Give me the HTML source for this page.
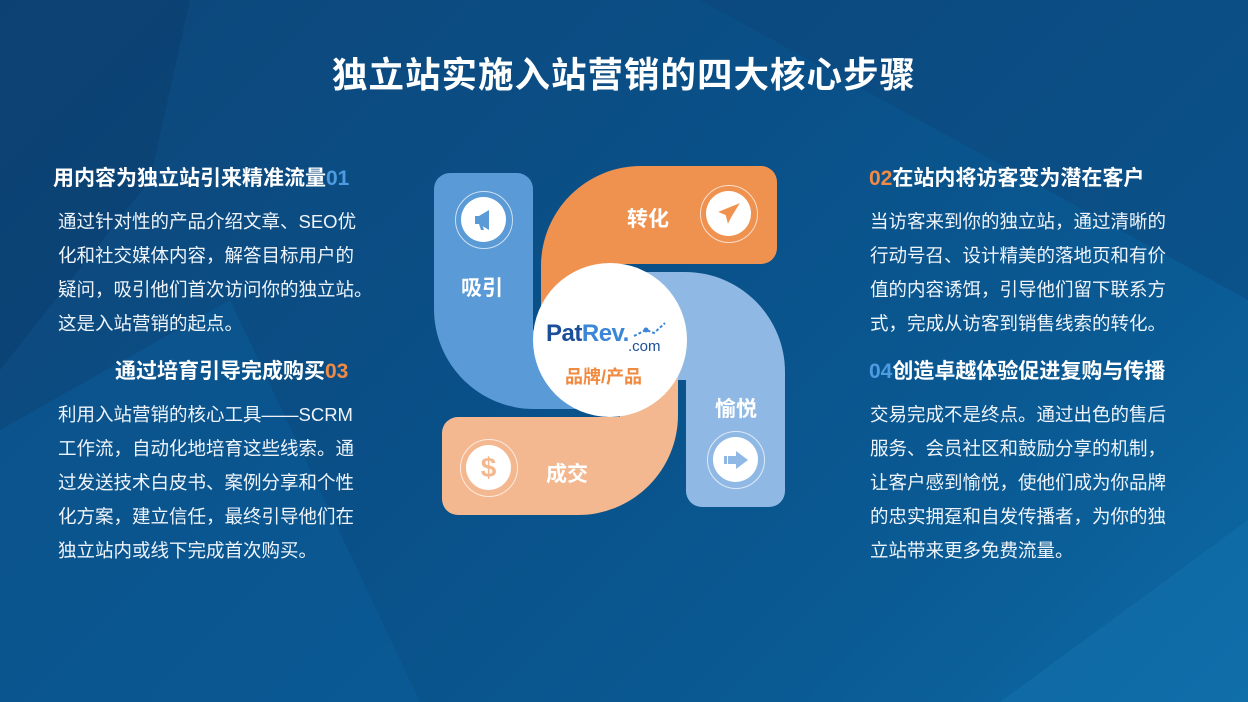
<!DOCTYPE html>
<html><head><meta charset="utf-8"><style>
*{margin:0;padding:0;box-sizing:border-box}
body{width:1248px;height:702px;overflow:hidden;position:relative;font-family:"Liberation Sans","Noto Sans CJK SC",sans-serif;color:#fff;background:linear-gradient(135deg,#0d4679 0%,#0a5088 45%,#0a5a94 75%,#0e6aa4 100%)}
.abs{position:absolute}
h1{position:absolute;left:0;width:1248px;top:47px;text-align:center;font-size:35.5px;font-weight:bold;letter-spacing:1px}
.hd{position:absolute;font-size:21px;font-weight:bold;white-space:nowrap}
.num{color:#4d9be0}
.numo{color:#f08a46}
.bd{position:absolute;font-size:18.5px;line-height:34px;white-space:nowrap;color:#eef4fa}
.lbl{position:absolute;font-size:21px;font-weight:bold;color:#fff}
.ic{position:absolute;width:58px;height:58px;border-radius:50%;border:1.5px solid rgba(255,255,255,.7)}
.ic div{position:absolute;left:5px;top:5px;width:45px;height:45px;border-radius:50%;background:#fff;display:flex;align-items:center;justify-content:center}
</style></head><body>
<svg class="abs" style="left:0;top:0" width="1248" height="702">
<polygon points="0,0 190,0 150,180 0,370" fill="#0b3f70" opacity=".6"/>
<polygon points="0,430 230,300 420,702 0,702" fill="#0b64a2" opacity=".35"/>
<polygon points="1000,702 1248,520 1248,702" fill="#1272ad" opacity=".5"/>
<polygon points="700,0 1248,0 1248,300" fill="#0c4477" opacity=".4"/>
</svg>
<h1>独立站实施入站营销的四大核心步骤</h1>

<div class="hd" style="left:53px;top:162px">用内容为独立站引来精准流量<span class="num">01</span></div>
<div class="bd" style="left:58px;top:205px">通过针对性的产品介绍文章、SEO优<br>化和社交媒体内容，解答目标用户的<br>疑问，吸引他们首次访问你的独立站。<br>这是入站营销的起点。</div>
<div class="hd" style="left:115px;top:355px">通过培育引导完成购买<span class="numo">03</span></div>
<div class="bd" style="left:58px;top:398px">利用入站营销的核心工具——SCRM<br>工作流，自动化地培育这些线索。通<br>过发送技术白皮书、案例分享和个性<br>化方案，建立信任，最终引导他们在<br>独立站内或线下完成首次购买。</div>

<div class="hd" style="left:869px;top:162px"><span class="numo">02</span>在站内将访客变为潜在客户</div>
<div class="bd" style="left:870px;top:205px">当访客来到你的独立站，通过清晰的<br>行动号召、设计精美的落地页和有价<br>值的内容诱饵，引导他们留下联系方<br>式，完成从访客到销售线索的转化。</div>
<div class="hd" style="left:869px;top:355px"><span class="num">04</span>创造卓越体验促进复购与传播</div>
<div class="bd" style="left:870px;top:398px">交易完成不是终点。通过出色的售后<br>服务、会员社区和鼓励分享的机制，<br>让客户感到愉悦，使他们成为你品牌<br>的忠实拥趸和自发传播者，为你的独<br>立站带来更多免费流量。</div>

<svg class="abs" style="left:0;top:0" width="1248" height="702">
<path d="M434,189 a16,16 0 0 1 16,-16 h67 a16,16 0 0 1 16,16 V330 H600 V409 H534 A100,100 0 0 1 434,309 Z" fill="#5a9ad6"/>
<path d="M541,330 V266 A100,100 0 0 1 641,166 H761 a16,16 0 0 1 16,16 V248 a16,16 0 0 1 -16,16 H600 V330 Z" fill="#ef9250"/>
<path d="M640,272 H685 A100,100 0 0 1 785,372 V491 a16,16 0 0 1 -16,16 H702 a16,16 0 0 1 -16,-16 V380 H640 Z" fill="#8fb9e4"/>
<path d="M678,360 V415 A100,100 0 0 1 578,515 H458 a16,16 0 0 1 -16,-16 V433 a16,16 0 0 1 16,-16 H620 V360 Z" fill="#f3b890"/>
<circle cx="610" cy="340" r="77" fill="#fff"/>
</svg>
<div class="abs" style="left:546px;top:320px;font-size:24px;font-weight:bold;color:#1c4f99;letter-spacing:-.5px">Pat<span style="color:#3b86d6">Rev.</span></div>
<div class="abs" style="left:628px;top:338px;font-size:15px;color:#1c4f99">.com</div>
<svg class="abs" style="left:632px;top:320px" width="36" height="20"><polyline points="2,16 14,10 22,13 33,3" stroke="#3b86d6" stroke-width="2" fill="none" stroke-dasharray="3,2"/><circle cx="14" cy="10" r="2.5" fill="#3b86d6"/></svg>
<div class="abs" style="left:565px;top:363px;font-size:18px;font-weight:bold;color:#ef8a40">品牌/产品</div>

<div class="lbl" style="left:461px;top:272px">吸引</div>
<div class="lbl" style="left:627px;top:203px">转化</div>
<div class="lbl" style="left:715px;top:393px">愉悦</div>
<div class="lbl" style="left:546px;top:458px">成交</div>

<div class="ic" style="left:455px;top:191px"><div><svg width="26" height="26" viewBox="0 0 26 26"><path d="M4 9h4l10-6v20L8 17H4z" fill="#5a9ad6"/><path d="M8 17l2 6h3l-2-6z" fill="#5a9ad6"/></svg></div></div>
<div class="ic" style="left:700px;top:185px"><div><svg width="26" height="26" viewBox="0 0 24 24"><path d="M22 2 2 10l7 3 2 8 3-6 8-13z" fill="#ef9250"/></svg></div></div>
<div class="ic" style="left:707px;top:431px"><div><svg width="28" height="22" viewBox="0 0 28 22"><rect x="2" y="7" width="3" height="8" fill="#8fb9e4"/><rect x="6" y="7" width="8" height="8" fill="#8fb9e4"/><path d="M14 2 26 11 14 20z" fill="#8fb9e4"/></svg></div></div>
<div class="ic" style="left:460px;top:439px"><div><span style="color:#f3b890;font-size:28px;font-weight:bold">$</span></div></div>
</body></html>
